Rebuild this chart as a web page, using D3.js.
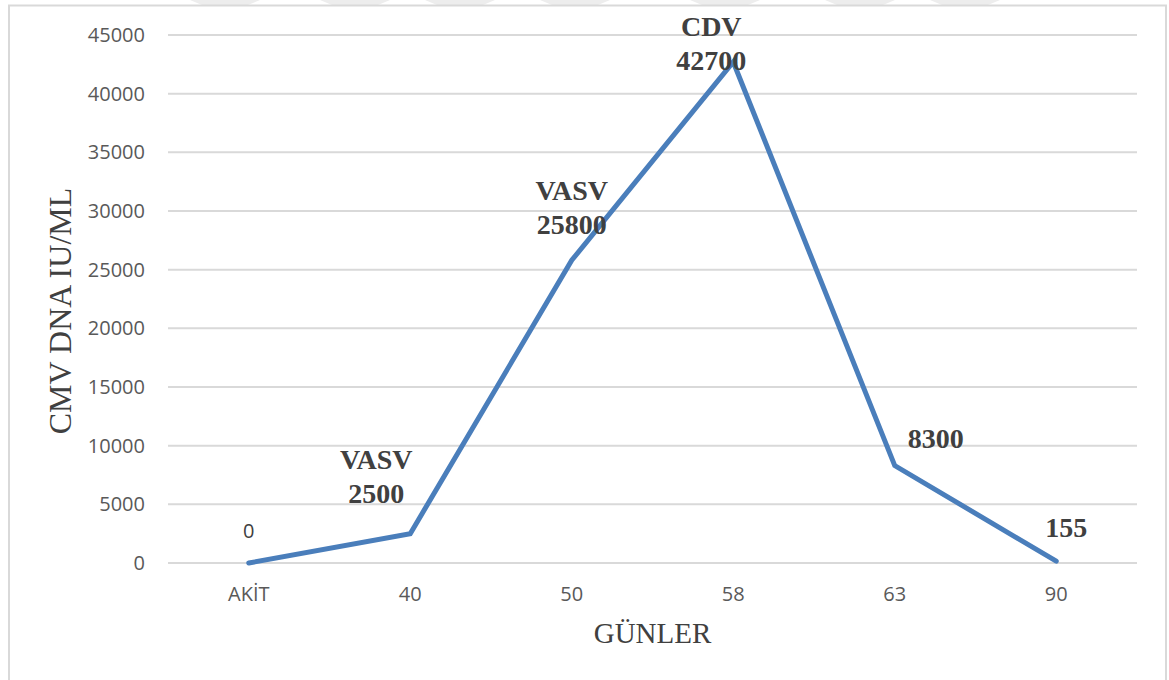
<!DOCTYPE html>
<html>
<head>
<meta charset="utf-8">
<script src="https://cdn.jsdelivr.net/npm/d3@7"></script>
<style>
  html, body { margin: 0; padding: 0; background: #ffffff; }
  svg { display: block; }
</style>
</head>
<body>
<svg id="chart" width="1169" height="680"></svg>
<script>
// ---- data ----
const categories = ["AKİT", "40", "50", "58", "63", "90"];
const values = [0, 2500, 25800, 42700, 8300, 155];
const labelTags = ["", "VASV", "VASV", "CDV", "", ""];
const yTicks = [0, 5000, 10000, 15000, 20000, 25000, 30000, 35000, 40000, 45000];
const xTitle = "GÜNLER";
const yTitle = "CMV DNA IU/ML";

// ---- layout ----
const W = 1169, H = 680;
const plot = { left: 168, right: 1137, top: 35, bottom: 563 };
// label offsets (relative to each point): dx, dy of the last line baseline
const labelOffsets = [[0, -25], [-34, -31], [0, -26], [-22, 8], [41, -18], [10, -24]];

const svg = d3.select("#chart");

// faint watermark strip at the very top
const wm = svg.append("g");
const wmX = [190, 320, 425, 540, 690, 825, 930];
wmX.forEach(x0 => {
  wm.append("path")
    .attr("d", `M${x0},0 L${x0 + 70},0 L${x0 + 58},5 L${x0 + 12},5 Z`)
    .attr("fill", "#ededed");
});

// outer border
svg.append("rect")
  .attr("x", 9).attr("y", 5.5)
  .attr("width", 1157).attr("height", 690)
  .attr("fill", "none")
  .attr("stroke", "#d9d9d9")
  .attr("stroke-width", 2);

const x = d3.scaleBand().domain(categories).range([plot.left, plot.right]).padding(0);
const y = d3.scaleLinear().domain([0, 45000]).range([plot.bottom, plot.top]);
const cx = c => x(c) + x.bandwidth() / 2;

// gridlines + y tick labels via axis
const yAxis = d3.axisLeft(y).tickValues(yTicks).tickSize(0).tickPadding(23).tickFormat(d3.format("d"));
const gy = svg.append("g").attr("transform", `translate(${plot.left},0)`).call(yAxis);
gy.select(".domain").remove();
gy.selectAll("text")
  .attr("font-family", "'Open Sans', sans-serif")
  .attr("font-size", 20)
  .attr("fill", "#595959");

svg.append("g").selectAll("line").data(yTicks).join("line")
  .attr("x1", plot.left).attr("x2", plot.right)
  .attr("y1", d => y(d)).attr("y2", d => y(d))
  .attr("stroke", "#d9d9d9").attr("stroke-width", 2);

// x axis labels
const xAxis = d3.axisBottom(x).tickSize(0).tickPadding(24);
const gx = svg.append("g").attr("transform", `translate(0,${plot.bottom})`).call(xAxis);
gx.select(".domain").remove();
gx.selectAll("text")
  .attr("font-family", "'Open Sans', sans-serif")
  .attr("font-size", 20)
  .attr("fill", "#595959");

// line
const line = d3.line().x((d, i) => cx(categories[i])).y(d => y(d));
svg.append("path")
  .datum(values)
  .attr("d", line)
  .attr("fill", "none")
  .attr("stroke", "#4a7ebb")
  .attr("stroke-width", 5)
  .attr("stroke-linejoin", "miter")
  .attr("stroke-linecap", "round");

// data labels
values.forEach((v, i) => {
  const px = cx(categories[i]) + labelOffsets[i][0];
  const py = y(v) + labelOffsets[i][1];
  if (i === 0) {
    svg.append("text")
      .attr("x", px).attr("y", py)
      .attr("text-anchor", "middle")
      .attr("font-family", "'Open Sans', sans-serif")
      .attr("font-size", 20)
      .attr("fill", "#404040")
      .text(v);
    return;
  }
  const t = svg.append("text")
    .attr("text-anchor", "middle")
    .attr("font-family", "'Liberation Serif', 'Times New Roman', serif")
    .attr("font-weight", "bold")
    .attr("font-size", 28)
    .attr("fill", "#404040");
  if (labelTags[i]) {
    t.append("tspan").attr("x", px).attr("y", py - 34).text(labelTags[i]);
  }
  t.append("tspan").attr("x", px).attr("y", py).text(v);
});

// axis titles
svg.append("text")
  .attr("x", (plot.left + plot.right) / 2).attr("y", 643)
  .attr("text-anchor", "middle")
  .attr("font-family", "'Liberation Serif', 'Times New Roman', serif")
  .attr("font-size", 29)
  .attr("fill", "#404040")
  .text(xTitle);

svg.append("text")
  .attr("transform", `translate(71,311) rotate(-90)`)
  .attr("text-anchor", "middle")
  .attr("font-family", "'Liberation Serif', 'Times New Roman', serif")
  .attr("font-size", 32)
  .attr("fill", "#404040")
  .text(yTitle);
</script>
</body>
</html>
